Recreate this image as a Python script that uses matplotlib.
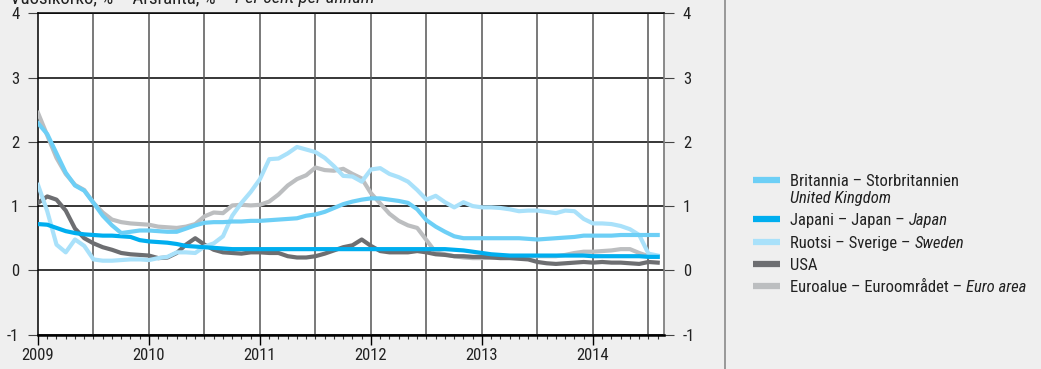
import matplotlib.pyplot as plt
from matplotlib import font_manager
from matplotlib.lines import Line2D
from matplotlib.ticker import MultipleLocator
import numpy as np

# pick a narrow sans if there is one installed, otherwise a plain one
fam, stretch = 'Roboto', 'normal'
for f in font_manager.fontManager.ttflist:
    if f.name in ('Liberation Sans Narrow', 'Roboto Condensed', 'Open Sans Condensed'):
        fam, stretch = f.name, 'normal'
        break
    if f.name == 'DejaVu Sans' and 'Condensed' in f.fname:
        fam, stretch = 'DejaVu Sans', 'condensed'
plt.rcParams['font.family'] = [fam, 'DejaVu Sans']
plt.rcParams['font.stretch'] = stretch
plt.rcParams['axes.unicode_minus'] = False

# Monthly rates, Jan 2009 - Aug 2014, per cent per annum
start_year = 2009

uk = [2.29, 2.12, 1.82, 1.52, 1.32, 1.24, 1.05, 0.85, 0.70, 0.58, 0.60, 0.62,
      0.62, 0.61, 0.60, 0.60, 0.65, 0.70, 0.74, 0.75, 0.75, 0.76, 0.76, 0.77,
      0.77, 0.78, 0.79, 0.80, 0.81, 0.85, 0.87, 0.91, 0.97, 1.03, 1.07, 1.10,
      1.12, 1.12, 1.10, 1.08, 1.05, 0.95, 0.78, 0.68, 0.60, 0.53, 0.50, 0.50,
      0.50, 0.50, 0.50, 0.50, 0.50, 0.49, 0.48, 0.49, 0.50, 0.51, 0.52, 0.54,
      0.54, 0.54, 0.54, 0.55, 0.55, 0.55, 0.55, 0.55]

japan = [0.72, 0.71, 0.66, 0.61, 0.58, 0.56, 0.55, 0.54, 0.54, 0.53, 0.52, 0.47,
         0.45, 0.44, 0.43, 0.41, 0.38, 0.37, 0.36, 0.35, 0.34, 0.33, 0.33, 0.33,
         0.33, 0.33, 0.33, 0.33, 0.33, 0.33, 0.33, 0.33, 0.33, 0.33, 0.33, 0.33,
         0.33, 0.33, 0.33, 0.33, 0.33, 0.33, 0.33, 0.33, 0.33, 0.32, 0.31, 0.29,
         0.27, 0.25, 0.24, 0.23, 0.23, 0.23, 0.23, 0.23, 0.23, 0.23, 0.23, 0.23,
         0.22, 0.22, 0.22, 0.22, 0.22, 0.22, 0.21, 0.21]

sweden = [1.33, 0.92, 0.40, 0.28, 0.48, 0.38, 0.17, 0.15, 0.15, 0.16, 0.17, 0.17,
          0.16, 0.19, 0.21, 0.28, 0.28, 0.27, 0.37, 0.42, 0.53, 0.85, 1.05, 1.22,
          1.42, 1.73, 1.74, 1.82, 1.92, 1.88, 1.84, 1.75, 1.62, 1.47, 1.46, 1.38,
          1.57, 1.59, 1.50, 1.45, 1.38, 1.25, 1.10, 1.16, 1.06, 0.98, 1.06, 1.00,
          0.98, 0.98, 0.97, 0.95, 0.92, 0.93, 0.93, 0.91, 0.89, 0.93, 0.92, 0.80,
          0.73, 0.73, 0.72, 0.69, 0.64, 0.55, 0.26, 0.23]

usa = [1.05, 1.15, 1.10, 0.93, 0.65, 0.50, 0.42, 0.36, 0.32, 0.27, 0.25, 0.24,
       0.23, 0.19, 0.20, 0.27, 0.40, 0.50, 0.40, 0.32, 0.28, 0.27, 0.26, 0.28,
       0.28, 0.27, 0.27, 0.22, 0.20, 0.20, 0.22, 0.26, 0.31, 0.36, 0.39, 0.48,
       0.38, 0.30, 0.28, 0.28, 0.28, 0.30, 0.28, 0.25, 0.24, 0.22, 0.22, 0.21,
       0.21, 0.20, 0.19, 0.19, 0.18, 0.17, 0.13, 0.11, 0.10, 0.11, 0.12, 0.13,
       0.12, 0.13, 0.12, 0.12, 0.11, 0.10, 0.13, 0.12]

euro = [2.45, 2.10, 1.75, 1.50, 1.33, 1.25, 1.05, 0.90, 0.79, 0.75, 0.73, 0.72,
        0.71, 0.68, 0.67, 0.66, 0.68, 0.72, 0.84, 0.90, 0.89, 1.01, 1.02, 1.01,
        1.02, 1.07, 1.18, 1.32, 1.42, 1.48, 1.60, 1.56, 1.55, 1.58, 1.50, 1.43,
        1.20, 1.04, 0.88, 0.77, 0.70, 0.66, 0.47, 0.28, 0.25, 0.22, 0.20, 0.19,
        0.19, 0.20, 0.21, 0.21, 0.21, 0.22, 0.22, 0.22, 0.22, 0.24, 0.27, 0.29,
        0.29, 0.30, 0.31, 0.33, 0.33, 0.27, 0.22, 0.21]

years = [2009, 2010, 2011, 2012, 2013, 2014]

# legend: (regular part, italic part, colour)
legend_rows = [
    ("Britannia – Storbritannien", "", '#6dcff6'),
    ("Japani – Japan – ", "Japan", '#00aeef'),
    ("Ruotsi – Sverige – ", "Sweden", '#a9e1fa'),
    ("USA", "", '#6d6e71'),
    ("Euroalue – Euroområdet – ", "Euro area", '#bcbec0'),
]
uk_second_line = "United Kingdom"
title_regular = "Vuosikorko, % – Årsränta, % – "
title_italic = "Per cent per annum"

bg = '#efefef'
txt = '#222222'
fs = 12
W, H = 1041, 369
fig = plt.figure(figsize=(W / 100, H / 100), dpi=100, facecolor=bg)
ax = fig.add_axes([38 / W, 1 - 334.6 / H, (664 - 38) / W, (334.6 - 13.3) / H])
ax.set_facecolor('white')

x = start_year + np.arange(len(uk)) / 12
lw = 3.0
# back to front
ax.plot(x, euro, color=legend_rows[4][2], lw=lw, zorder=3)
ax.plot(x, usa, color=legend_rows[3][2], lw=lw, zorder=3)
ax.plot(x, sweden, color=legend_rows[2][2], lw=lw, zorder=3)
ax.plot(x, japan, color=legend_rows[1][2], lw=lw, zorder=3)
ax.plot(x, uk, color=legend_rows[0][2], lw=lw, zorder=3)

ax.set_xlim(2009, 2014.64)
ax.set_ylim(-1, 4)

for v in range(-1, 5):
    ax.axhline(v, color='black', lw=1.1, zorder=1)
for yr in np.arange(2009.5, 2015, 0.5):
    ax.axvline(yr, color='#555555', lw=1.1, zorder=1)

ax.set_xticks(years)
ax.set_xticklabels([str(y) for y in years])
ax.xaxis.set_minor_locator(MultipleLocator(1 / 12))
ax.tick_params(axis='x', which='major', direction='out', length=7, width=1, color='black',
               labelsize=fs, pad=3, labelcolor=txt)
ax.tick_params(axis='x', which='minor', direction='out', length=3, width=0.8, color='#333333')

ax.set_yticks(range(-1, 5))
ax.tick_params(axis='y', which='major', direction='out', length=7.5, width=0.8, color='#444444',
               labelsize=fs, pad=6, left=True, right=True, labelleft=True, labelright=True,
               labelcolor=txt)

for s in ['top', 'left']:
    ax.spines[s].set_color('black')
    ax.spines[s].set_linewidth(1.1)
ax.spines['bottom'].set_color('black')
ax.spines['bottom'].set_linewidth(1.8)
ax.spines['right'].set_color('#777777')
ax.spines['right'].set_linewidth(1.2)

renderer = fig.canvas.get_renderer()


def mixed_text(x0, y0, regular, italic, va, size):
    t = fig.text(x0 / W, 1 - y0 / H, regular, fontsize=size, va=va, ha='left', color=txt)
    if italic:
        ext = t.get_window_extent(renderer)
        fig.text(ext.x1 / W, 1 - y0 / H, italic, fontsize=size, va=va, ha='left',
                 color=txt, fontstyle='italic')


mixed_text(10, 3, title_regular, title_italic, 'baseline', 13.5)

# separator between chart and legend panel
fig.add_artist(Line2D([725 / W, 725 / W], [0, 1], transform=fig.transFigure,
                      color='#8a8a8a', lw=1.2))

rows = [180, 219, 242, 264, 286]
for (reg, ita, col), row in zip(legend_rows, rows):
    yy = 1 - row / H
    fig.add_artist(Line2D([753 / W, 780 / W], [yy, yy], transform=fig.transFigure,
                          color=col, lw=4.5, solid_capstyle='butt'))
    mixed_text(790, row, reg, ita, 'center_baseline', fs)
fig.text(790 / W, 1 - 197 / H, uk_second_line, fontsize=fs, va='center_baseline',
         ha='left', color=txt, fontstyle='italic')

fig.savefig('out.png', dpi=100, facecolor=bg)
